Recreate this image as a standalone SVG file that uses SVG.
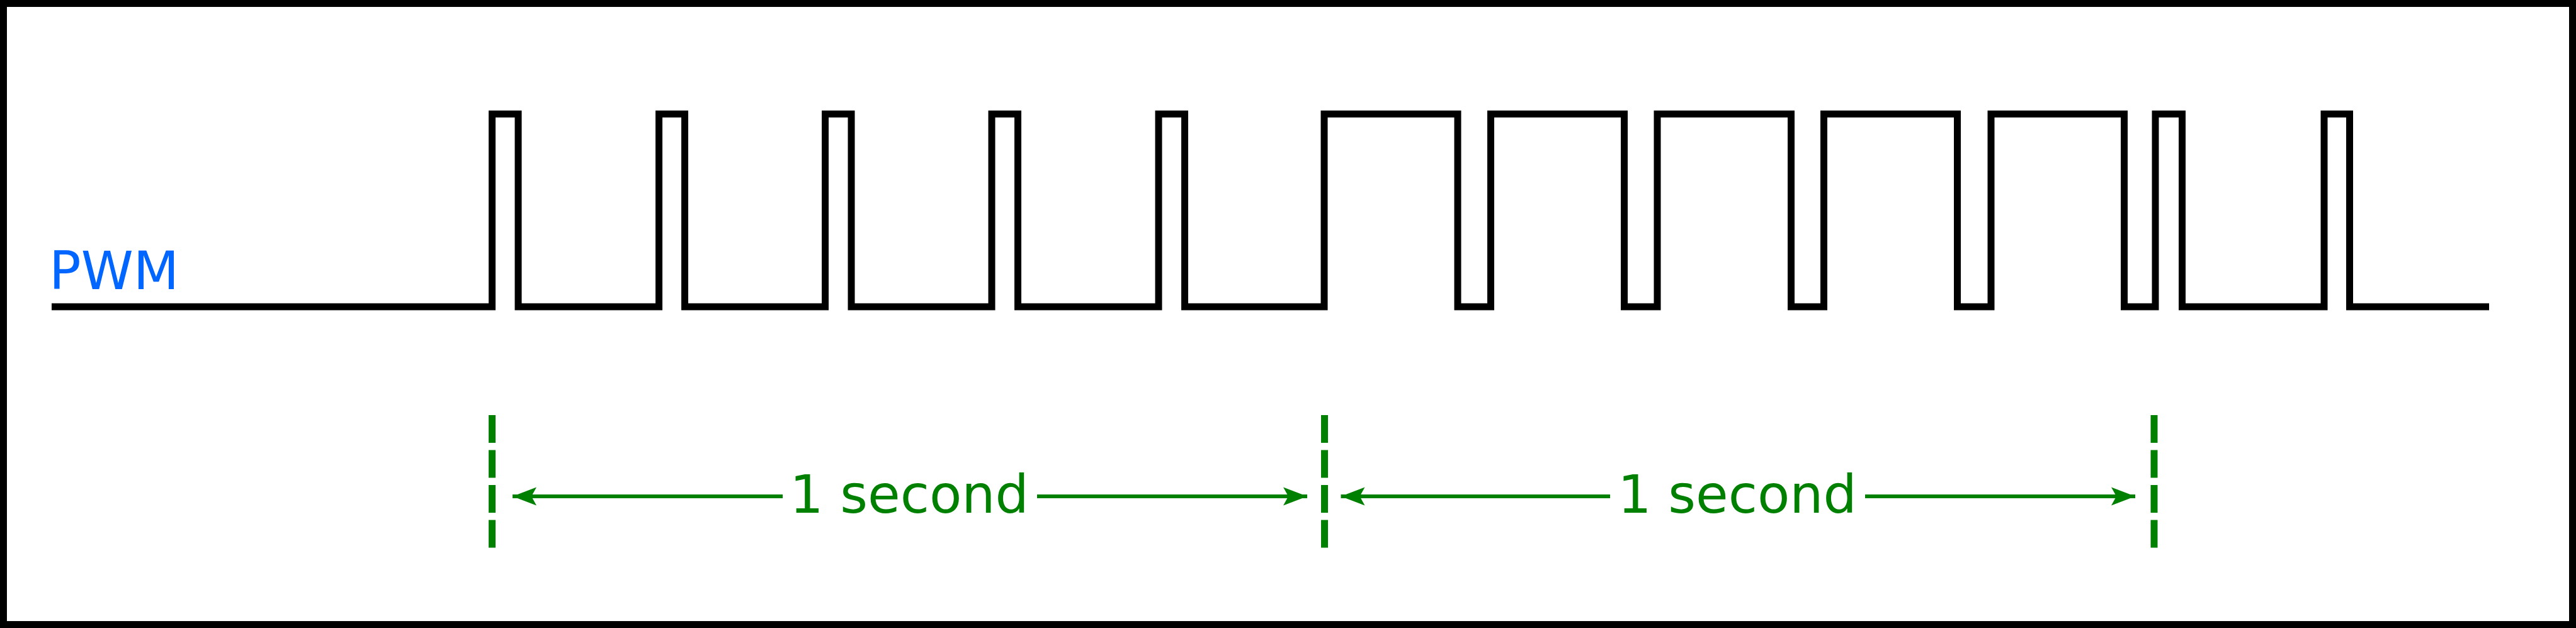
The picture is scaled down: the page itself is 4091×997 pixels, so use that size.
<svg xmlns="http://www.w3.org/2000/svg" width="4091" height="997" viewBox="0 0 4091 997">
<style>
.wave{fill:none;stroke:#000;stroke-width:11;stroke-linejoin:miter;stroke-linecap:butt}
.marker-line{fill:none;stroke:#008000;stroke-width:11;stroke-dasharray:44 11.5}
.dim{fill:none;stroke:#008000;stroke-width:6}
.lbl{font-family:"DejaVu Sans",sans-serif;font-size:84px;fill:#008000;text-anchor:middle}
.pwm{font-family:"DejaVu Sans",sans-serif;font-size:84px;fill:#0066FF}
</style>
<defs>
<marker id="arr" markerUnits="userSpaceOnUse" viewBox="-38 -15 40 30" markerWidth="40" markerHeight="30" refX="0" refY="0" orient="auto-start-reverse">
<path d="M0,0 L-38,-14.5 L-30,0 L-38,14.5 Z" fill="#008000"/>
</marker>
</defs>
<rect x="5.5" y="5.5" width="4080" height="986" fill="#fff" stroke="#000" stroke-width="11"/>
<g id="pwm-label"><text class="pwm" x="78" y="459">PWM</text></g>
<g id="pwm-signal">
<path class="wave" d="M82,487 H781.5 V181 H823 V487 H1046.5 V181 H1087.5 V487 H1310.5 V181 H1352 V487 H1575 V181 H1616.5 V487 H1840 V181 H1881.5 V487 H2103 V181 H2315 V487 H2367.5 V181 H2579.5 V487 H2632 V181 H2844.5 V487 H2896.5 V181 H3108.5 V487 H3162 V181 H3373.5 V487 H3423 V181 H3465.5 V487 H3691 V181 H3731.5 V487 H3953"/>
</g>
<g id="marker-1"><line class="marker-line" x1="781.5" y1="659" x2="781.5" y2="870"/></g>
<g id="marker-2"><line class="marker-line" x1="2103.5" y1="659" x2="2103.5" y2="870"/></g>
<g id="marker-3"><line class="marker-line" x1="3421" y1="659" x2="3421" y2="870"/></g>
<g id="connectors">
<line class="dim" x1="814" y1="788" x2="2076" y2="788" marker-start="url(#arr)" marker-end="url(#arr)"/>
<line class="dim" x1="2129.5" y1="788" x2="3391" y2="788" marker-start="url(#arr)" marker-end="url(#arr)"/>
</g>
<g id="label-1">
<rect x="1243" y="770" width="404" height="36" fill="#fff"/>
<text class="lbl" x="1444" y="814">1 second</text>
</g>
<g id="label-2">
<rect x="2557" y="770" width="405" height="36" fill="#fff"/>
<text class="lbl" x="2759" y="814">1 second</text>
</g>
</svg>
